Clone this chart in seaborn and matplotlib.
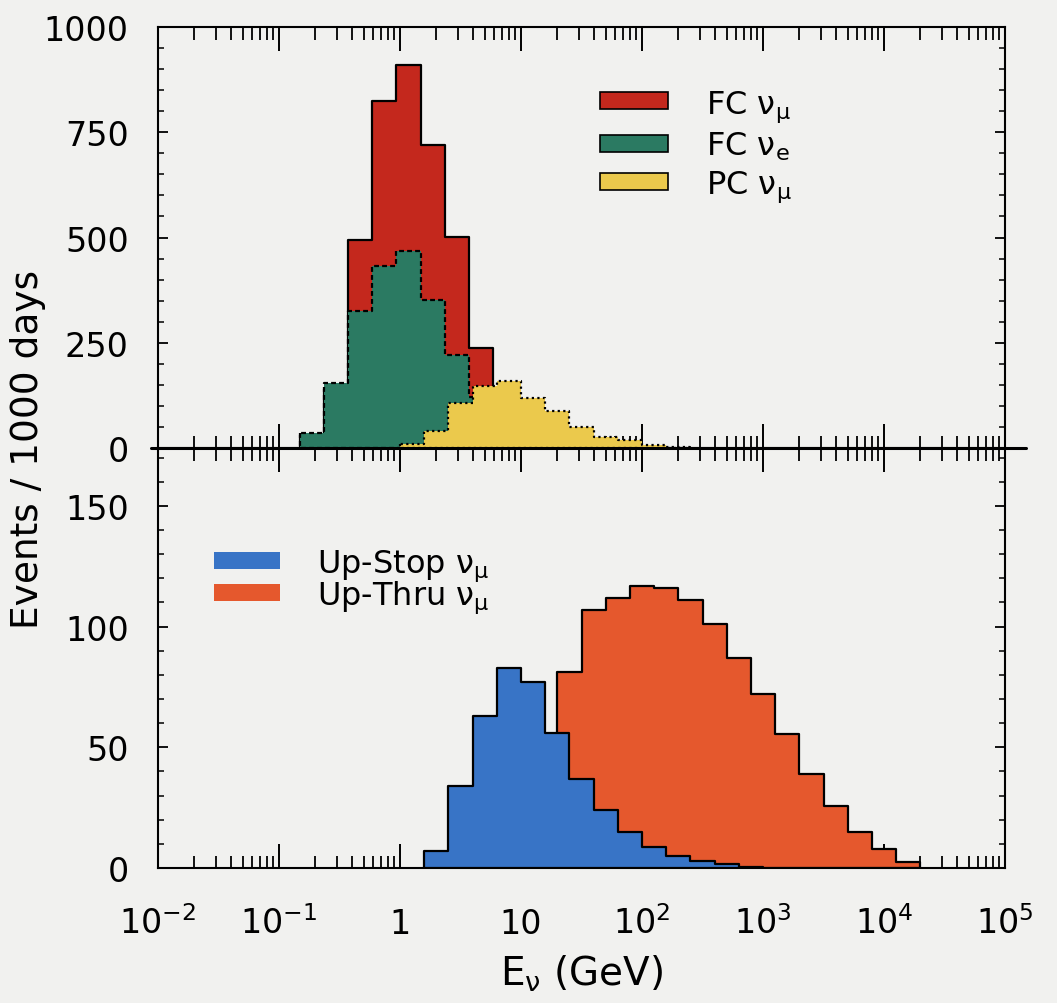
import numpy as np
import pandas as pd
import matplotlib
matplotlib.use("Agg")
import matplotlib.pyplot as plt
import seaborn as sns
from matplotlib.patches import Patch
from matplotlib.ticker import FixedLocator, FixedFormatter, LogLocator, NullFormatter, MultipleLocator

# ---------------- data (events / 1000 days per 0.2-decade bin) ----------------
bin_width_dex = 0.2
fc_numu_start = -0.83          # log10(E/GeV) lower edge of first bin
fc_numu = [30, 140, 493, 825, 909, 719, 501, 237, 110, 50, 20]
fc_nue_start = -0.83
fc_nue = [36, 154, 325, 432, 467, 352, 221, 120, 55, 20]
pc_numu_start = 0.0
pc_numu = [9, 40, 108, 147, 159, 118, 88, 51, 27, 18, 6, 2]
upstop_start = 0.2
upstop = [7, 34, 63, 83, 77, 56, 37, 24, 15, 8.6, 5, 3, 1.7, 0.5]
upthru_start = 1.3
upthru = [81, 107, 112, 117, 116, 111, 101, 87, 72, 55.5, 39, 25.5, 15, 8, 2.6]

xtick_exps = [-2, -1, 0, 1, 2, 3, 4, 5]
xtick_labels = [r"$\mathregular{10^{-2}}$", r"$\mathregular{10^{-1}}$", "1", "10",
                r"$\mathregular{10^{2}}$", r"$\mathregular{10^{3}}$",
                r"$\mathregular{10^{4}}$", r"$\mathregular{10^{5}}$"]

labels_top = [r"FC $\mathregular{\nu_\mu}$", r"FC $\mathregular{\nu_e}$", r"PC $\mathregular{\nu_\mu}$"]
labels_bot = [r"Up-Stop $\mathregular{\nu_\mu}$", r"Up-Thru $\mathregular{\nu_\mu}$"]

c_red, c_green, c_yellow = "#c4281d", "#2b7a62", "#ebc94c"
c_blue, c_orange = "#3874c6", "#e5582d"
bg = "#f1f1ef"


def hist_frame(start, values):
    n = len(values)
    centers = 10 ** (start + bin_width_dex * (np.arange(n) + 0.5))
    edges = [float(start + bin_width_dex * k) for k in range(n + 1)]
    return pd.DataFrame({"E": centers, "N": values}), edges


sns.set_theme(style="ticks")
plt.rcParams["font.family"] = ["DejaVu Sans"]
plt.rcParams["mathtext.fontset"] = "dejavusans"
plt.rcParams["axes.linewidth"] = 1.5
plt.rcParams["text.color"] = "black"
plt.rcParams["xtick.color"] = "black"
plt.rcParams["ytick.color"] = "black"
plt.rcParams["axes.labelcolor"] = "black"

W, H = 1057, 1004
fig = plt.figure(figsize=(W / 100, H / 100), dpi=100, facecolor=bg)
L, R = 158 / W, 1005 / W
y_top, y_mid, y_bot = 1 - 28 / H, 1 - 449 / H, 1 - 869 / H
ax_bot = fig.add_axes([L, y_bot, R - L, y_mid - y_bot])
ax_top = fig.add_axes([L, y_mid, R - L, y_top - y_mid])
ax_top.set_zorder(3)
for ax in (ax_top, ax_bot):
    ax.set_facecolor(bg)

FS = 24
FS_LEG = 23
lw = 1.6

# ---- top panel
series_top = [
    (fc_numu_start, fc_numu, c_red, "-", 2),
    (fc_nue_start, fc_nue, c_green, (0, (2.2, 1.4)), 3),
    (pc_numu_start, pc_numu, c_yellow, (0, (1.0, 1.5)), 4),
]
for start, vals, col, ls, z in series_top:
    df, edges = hist_frame(start, vals)
    sns.histplot(data=df, x="E", weights="N", bins=edges, log_scale=True,
                 element="step", fill=True, color=col, alpha=1,
                 edgecolor="black", linewidth=lw, linestyle=ls, zorder=z, ax=ax_top)

# ---- bottom panel
series_bot = [
    (upthru_start, upthru, c_orange, 2),
    (upstop_start, upstop, c_blue, 3),
]
for start, vals, col, z in series_bot:
    df, edges = hist_frame(start, vals)
    sns.histplot(data=df, x="E", weights="N", bins=edges, log_scale=True,
                 element="step", fill=True, color=col, alpha=1,
                 edgecolor="black", linewidth=lw, zorder=z, ax=ax_bot)

for ax in (ax_top, ax_bot):
    ax.set_xscale("log")
    ax.set_xlim(1e-2, 1e5)
    ax.xaxis.set_major_locator(FixedLocator([10.0 ** e for e in xtick_exps]))
    ax.xaxis.set_minor_locator(LogLocator(base=10, subs=np.arange(2, 10), numticks=40))
    ax.xaxis.set_minor_formatter(NullFormatter())
    ax.tick_params(axis="x", which="major", direction="in", length=17, width=1.4,
                   top=True, bottom=True, color="black")
    ax.tick_params(axis="x", which="minor", direction="in", length=9, width=1.3,
                   top=True, bottom=True, color="black")
    ax.tick_params(axis="y", which="major", direction="in", length=7, width=1.3,
                   left=True, right=True, labelsize=FS, pad=21, color="black",
                   labelcolor="black")
    ax.tick_params(axis="y", which="minor", direction="in", length=4.5, width=1.1,
                   left=True, right=True, color="black")
    ax.set_xlabel("")
    ax.set_ylabel("")
    for sp in ax.spines.values():
        sp.set_color("black")
        sp.set_linewidth(1.5)

ax_top.set_ylim(0, 1000)
ax_top.yaxis.set_major_locator(MultipleLocator(250))
ax_top.yaxis.set_minor_locator(MultipleLocator(50))
ax_top.tick_params(axis="x", labelbottom=False)

ax_bot.set_ylim(0, 174)
ax_bot.yaxis.set_major_locator(FixedLocator([0, 50, 100, 150]))
ax_bot.yaxis.set_minor_locator(MultipleLocator(10))
ax_bot.xaxis.set_major_formatter(FixedFormatter(xtick_labels))
ax_bot.tick_params(axis="x", which="major", labelsize=FS, pad=47, labelcolor="black")
for lab in ax_bot.get_xticklabels():
    lab.set_va("baseline")

# thick middle line extending past the frame
ax_top.axhline(0, xmin=-0.008, xmax=1.025, color="black", lw=2.2, clip_on=False, zorder=10)

# axis labels
ax_bot.set_xlabel(r"E$_{\mathregular{\nu}}$ (GeV)", fontsize=28, color="black")
ax_bot.xaxis.label.set_va("baseline")
ax_bot.xaxis.set_label_coords(0.5, -(986 - 869) / 420)
fig.text(28 / W, 1 - 449 / H, "Events / 1000 days", rotation=90, fontsize=27,
         ha="center", va="center", color="black")

# legends
h_top = [Patch(facecolor=c, edgecolor="black", linewidth=1.2) for c in (c_red, c_green, c_yellow)]
ax_top.legend(h_top, labels_top, loc="upper left", bbox_to_anchor=((600 - 158) / 847, (449 - 89) / 421),
              frameon=False, fontsize=FS_LEG, borderpad=0, borderaxespad=0,
              handlelength=2.12, handleheight=0.44, handletextpad=1.2, labelspacing=0.2)
h_bot = [Patch(facecolor=c, edgecolor="none") for c in (c_blue, c_orange)]
ax_bot.legend(h_bot, labels_bot, loc="upper left", bbox_to_anchor=((214 - 158) / 847, (869 - 549) / 420),
              frameon=False, fontsize=FS_LEG, borderpad=0, borderaxespad=0,
              handlelength=2.08, handleheight=0.44, handletextpad=1.15, labelspacing=-0.15)

fig.savefig("out.png", dpi=100, facecolor=bg)
